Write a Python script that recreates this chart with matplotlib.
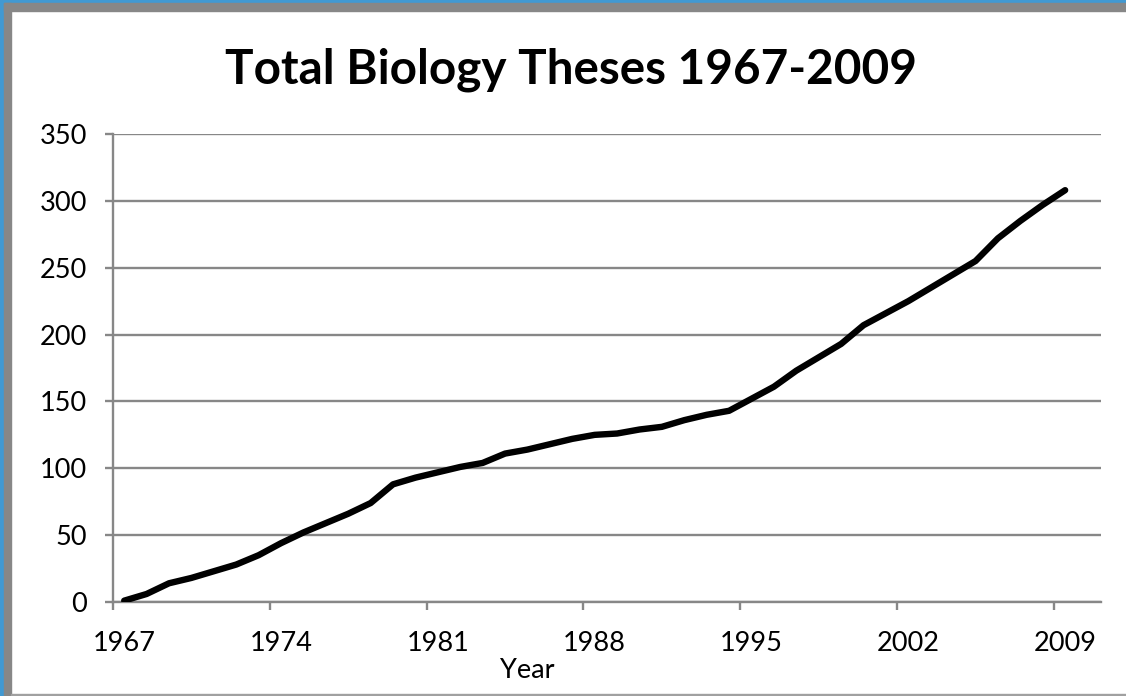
import numpy as np
import matplotlib
matplotlib.use("Agg")
import matplotlib.pyplot as plt
from matplotlib.patches import Rectangle

# cumulative number of biology theses per year
years = list(range(1967, 2010))
theses = [1, 6, 14, 18, 23, 28, 35, 44, 52, 59, 66, 74, 88, 93, 97, 101, 104,
          111, 114, 118, 122, 125, 126, 129, 131, 136, 140, 143, 152, 161, 173,
          183, 193, 207, 216, 225, 235, 245, 255, 272, 285, 297, 308]
y_ticks = [0, 50, 100, 150, 200, 250, 300, 350]
x_labels = [1967, 1974, 1981, 1988, 1995, 2002, 2009]

W, H = 1126, 696
grey = '#878787'
plt.rcParams['font.family'] = ['Lato', 'DejaVu Sans']

fig = plt.figure(figsize=(W / 100, H / 100), dpi=100)
ax = fig.add_axes([113 / W, 1 - 602 / H, (1101 - 113) / W, (602 - 134) / H])

ax.plot(years, theses, color='black', linewidth=4.6, solid_capstyle='round',
        solid_joinstyle='round', zorder=3)

ax.set_xlim(1966.5, 2010.6)
ax.set_ylim(0, 350)
ax.set_yticks(y_ticks)
# ticks sit on category boundaries, labels on category centres
ax.set_xticks([x - 0.5 for x in x_labels])
ax.set_xticklabels([])
ax.set_xticks(x_labels, minor=True)
ax.set_xticklabels([str(x) for x in x_labels], minor=True)

ax.tick_params(axis='y', which='major', length=5.8, width=1.7, color=grey,
               labelsize=19.5, pad=13)
ax.tick_params(axis='x', which='major', length=5.8, width=1.7, color=grey)
ax.tick_params(axis='x', which='minor', length=0, labelsize=19.5, pad=21)

ax.grid(axis='y', color=grey, linewidth=1.7)
ax.set_axisbelow(True)
for s in ['top', 'right']:
    ax.spines[s].set_visible(False)
for s in ['left', 'bottom']:
    ax.spines[s].set_color(grey)
    ax.spines[s].set_linewidth(1.7)

fig.text(571 / W, 1 - 70 / H, 'Total Biology Theses 1967-2009', ha='center',
         va='center', fontsize=34.3, fontweight='bold')
fig.text(527 / W, 1 - 670 / H, 'Year', ha='center', va='center', fontsize=19.5)

# frame around the chart (cropped at right/bottom)
def frame(x, y, w, h, c):
    fig.patches.append(Rectangle((x / W, 1 - (y + h) / H), w / W, h / H,
                                 transform=fig.transFigure, color=c, zorder=0))

frame(0, 0, W, 3, '#4199d2')
frame(0, 0, 4, H, '#4199d2')
frame(4, 3, W, 8, grey)
frame(4, 3, 7, H, grey)
frame(11, 694, W, 2, '#a0a0a0')

fig.savefig('out.png', dpi=100, facecolor='white')
